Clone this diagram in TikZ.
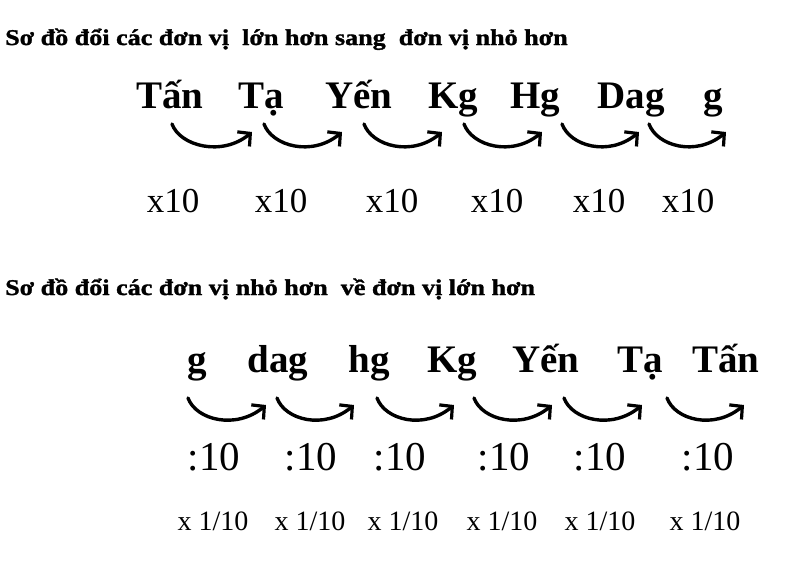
\documentclass[tikz,border=0pt]{standalone}
\usepackage{fontspec}
\setmainfont{Liberation Serif}
\newfontfamily\headfont{Liberation Serif}[FakeStretch=1.16, FakeBold=1.4]
\usetikzlibrary{arrows.meta,calc}
\tikzset{
    title/.style = {anchor=base west, font=\headfont\bfseries\fontsize{22.5}{22.5}\selectfont, inner sep=0pt},
    unit/.style = {anchor=base, font=\bfseries\fontsize{39}{39}\selectfont, inner sep=0pt},
    times/.style = {anchor=base, font=\fontsize{35}{35}\selectfont, inner sep=0pt},
    divide/.style = {anchor=base, font=\fontsize{41}{41}\selectfont, inner sep=0pt},
    frac/.style = {anchor=base, font=\fontsize{28}{28}\selectfont, inner sep=0pt},
    swing/.style = {draw, line width=3.4pt, line cap=round,
        -{Straight Barb[length=9pt,width=19pt,line width=3.2pt]},
        to path={.. controls ($(\tikztostart)+(8,22)$) and ($(\tikztotarget)+(-30,25)$) .. (\tikztotarget)}}
}
\begin{document}
\begin{tikzpicture}[x=1pt, y=-1pt]
        \useasboundingbox (0,0) rectangle (800,560);
        % lon sang nho
        \node [title] (head1) at (5,45) {Sơ đồ đổi các đơn vị\ \ lớn hơn sang\ \ đơn vị nhỏ hơn};
        \node [unit] (tan) at (170,108) {Tấn};
        \node [unit] (ta) at (261,108) {Tạ};
        \node [unit] (yen) at (359,108) {Yến};
        \node [unit] (kg) at (453,108) {Kg};
        \node [unit] (hg) at (535,108) {Hg};
        \node [unit] (dag) at (631,108) {Dag};
        \node [unit] (g) at (713,108) {g};
        \coordinate (s1) at (172,124); \coordinate (e1) at (252,132);
        \coordinate (s2) at (264,124); \coordinate (e2) at (342,132);
        \coordinate (s3) at (364,124); \coordinate (e3) at (442,132);
        \coordinate (s4) at (464,124); \coordinate (e4) at (542,132);
        \coordinate (s5) at (562,124); \coordinate (e5) at (639,132);
        \coordinate (s6) at (649,124); \coordinate (e6) at (726,132);
        \draw [swing] (s1) to (e1);
        \draw [swing] (s2) to (e2);
        \draw [swing] (s3) to (e3);
        \draw [swing] (s4) to (e4);
        \draw [swing] (s5) to (e5);
        \draw [swing] (s6) to (e6);
        \node [times] (m1) at (173,212) {x10};
        \node [times] (m2) at (281,212) {x10};
        \node [times] (m3) at (392,212) {x10};
        \node [times] (m4) at (497,212) {x10};
        \node [times] (m5) at (599,212) {x10};
        \node [times] (m6) at (688,212) {x10};
        % nho ve lon
        \node [title] (head2) at (5,295) {Sơ đồ đổi các đơn vị nhỏ hơn\ \ về đơn vị lớn hơn};
        \node [unit] (g2) at (197,372) {g};
        \node [unit] (dag2) at (278,372) {dag};
        \node [unit] (hg2) at (369,372) {hg};
        \node [unit] (kg2) at (452,372) {Kg};
        \node [unit] (yen2) at (546,372) {Yến};
        \node [unit] (ta2) at (640,372) {Tạ};
        \node [unit] (tan2) at (726,372) {Tấn};
        \coordinate (t1) at (188,398); \coordinate (f1) at (266,405);
        \coordinate (t2) at (277,398); \coordinate (f2) at (354,405);
        \coordinate (t3) at (377,398); \coordinate (f3) at (454,405);
        \coordinate (t4) at (474,398); \coordinate (f4) at (552,405);
        \coordinate (t5) at (564,398); \coordinate (f5) at (642,405);
        \coordinate (t6) at (667,398); \coordinate (f6) at (744,405);
        \draw [swing] (t1) to (f1);
        \draw [swing] (t2) to (f2);
        \draw [swing] (t3) to (f3);
        \draw [swing] (t4) to (f4);
        \draw [swing] (t5) to (f5);
        \draw [swing] (t6) to (f6);
        \node [divide] (d1) at (214,470) {:10};
        \node [divide] (d2) at (311,470) {:10};
        \node [divide] (d3) at (400,470) {:10};
        \node [divide] (d4) at (504,470) {:10};
        \node [divide] (d5) at (600,470) {:10};
        \node [divide] (d6) at (708,470) {:10};
        \node [frac] (r1) at (213,530) {x 1/10};
        \node [frac] (r2) at (310,530) {x 1/10};
        \node [frac] (r3) at (403,530) {x 1/10};
        \node [frac] (r4) at (502,530) {x 1/10};
        \node [frac] (r5) at (600,530) {x 1/10};
        \node [frac] (r6) at (705,530) {x 1/10};
\end{tikzpicture}
\end{document}
